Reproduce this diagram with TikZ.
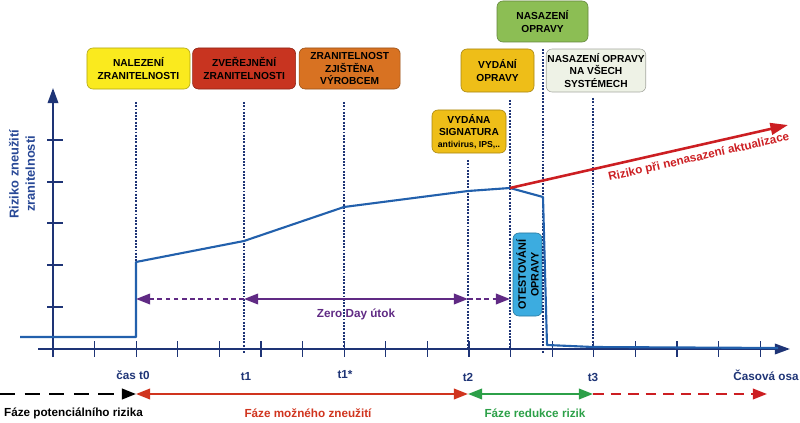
\documentclass[tikz,border=0pt]{standalone}
\usepackage{fontspec}
\setsansfont{Liberation Sans}
\usepackage{tikz}
\usetikzlibrary{arrows.meta,positioning}

\definecolor{osa}{RGB}{30,52,118}
\definecolor{popis}{RGB}{40,72,150}
\definecolor{krivka}{RGB}{34,96,172}
\definecolor{fialova}{RGB}{96,42,132}
\definecolor{cervena}{RGB}{204,30,34}
\definecolor{rudy}{RGB}{208,52,30}
\definecolor{zelena}{RGB}{44,160,72}
\definecolor{zluta}{RGB}{250,234,30}
\definecolor{cihla}{RGB}{200,52,32}
\definecolor{oranz}{RGB}{216,114,34}
\definecolor{travova}{RGB}{140,190,84}
\definecolor{zlata}{RGB}{238,190,24}
\definecolor{svetla}{RGB}{238,242,230}
\definecolor{nebeska}{RGB}{60,172,224}

\begin{document}
\begin{tikzpicture}[
		x=0.03cm, y=-0.03cm,
		font=\bfseries\sffamily\fontsize{10}{12}\selectfont,
		krabice/.style={draw=#1!70!black, fill=#1, rounded corners=5pt, align=center,
			inner sep=1pt, line width=0.5pt, font=\bfseries\sffamily\fontsize{8.7}{10.4}\selectfont},
		tecky/.style={osa, line width=1pt, dash pattern=on 1.6pt off 1.2pt},
		ryska/.style={osa, line width=1.1pt},
		hrot/.style={-{Triangle[length=12pt,width=9pt]}},
		dvahroty/.style={{Triangle[length=12pt,width=9pt]}-{Triangle[length=12pt,width=9pt]}}]
		\useasboundingbox (0,0) rectangle (800,423);
		
		% Draw axes
		\draw[osa, line width=1.8pt, -{Triangle[length=13pt,width=9pt]}] (38,349) coordinate (xstart) -- (790,349) coordinate (xend);
		\draw[osa, line width=1.8pt, -{Triangle[length=13pt,width=9pt]}] (53,357) coordinate (ystart) -- (53,88) coordinate (yend);
		\foreach \i in {0,...,17}
		\draw[ryska] ({53+41.6*\i},341) -- ({53+41.6*\i},357);
		\foreach \yy in {140,182,223,265,307}
		\draw[ryska] (47,\yy) -- (63,\yy);
		\node[rotate=90, align=center, text=popis, font=\bfseries\sffamily\fontsize{11}{14}\selectfont] (riziko) at (22,174) {Riziko zneužití\\zranitelnosti};
		
		% time points
		\draw
		(136,349) coordinate (t0)
		(244,349) coordinate (t1)
		(344,349) coordinate (t1s)
		(468,349) coordinate (t2)
		(510,349) coordinate (tv)
		(543,349) coordinate (tn)
		(593,349) coordinate (t3);
		
		% boxes
		\node[krabice=zluta, minimum width=3.09cm, minimum height=1.23cm] (nalezeni) at (138.5,68.5) {NALEZENÍ\\ZRANITELNOSTI};
		\node[krabice=cihla, minimum width=3.09cm, minimum height=1.23cm, right=0.06cm of nalezeni] (zverejneni) {ZVEŘEJNĚNÍ\\ZRANITELNOSTI};
		\node[krabice=oranz, minimum width=3.03cm, minimum height=1.23cm, right=0.09cm of zverejneni] (zjistena) {ZRANITELNOST\\ZJIŠTĚNA\\VÝROBCEM};
		\node[krabice=travova, minimum width=2.73cm, minimum height=1.23cm] (nasazeni) at (542.5,21.5) {NASAZENÍ\\OPRAVY};
		\node[krabice=zlata, minimum width=2.19cm, minimum height=1.29cm] (vydani) at (497.5,70.5) {VYDÁNÍ\\OPRAVY};
		\node[krabice=svetla, minimum width=2.64cm, minimum height=1.29cm] (vsech) at (596,70.5) {NASAZENÍ OPRAVY\\NA VŠECH\\SYSTÉMECH};
		\node[krabice=zlata, minimum width=2.22cm, minimum height=1.29cm] (signatura) at (469,131.5)
		{VYDÁNA\\SIGNATURA\\{\fontsize{7.4}{9}\selectfont antivirus, IPS,..}};
		\node[krabice=nebeska, rotate=90, minimum width=2.49cm, minimum height=0.87cm,
		font=\bfseries\sffamily\fontsize{9.2}{11}\selectfont] (test) at (527.5,274.5) {OTESTOVÁNÍ\\OPRAVY};
		
		% dotted verticals
		\draw[tecky] (t0 |- 0,102) -- (t0 |- 0,262);
		\draw[tecky] (t1 |- 0,102) -- (t1 |- 0,353);
		\draw[tecky] (t1s |- 0,102) -- (t1s);
		\draw[tecky] (t2 |- 0,160) -- (t2);
		\draw[tecky] (tv |- 0,100) -- (tv);
		\draw[tecky] (tn |- 0,49) -- (tn |- 0,353);
		\draw[tecky] (t3 |- 0,98) -- (t3);
		
		% risk curve
		\draw[krivka, line width=1.8pt, line join=round]
		(20,337) coordinate (k0) -- (136,337) -- (136,262) coordinate (k1)
		-- (244,241) -- (344,207) -- (468,191) -- (510,188) coordinate (kv)
		-- (543,197) -- (547,345) -- (593,347) -- (778,348) coordinate (kend);
		\coordinate (rtip) at (788,125);
		\draw[cervena, line width=2.2pt, -{Triangle[length=15pt,width=10pt]}] (kv) -- (rtip)
		node[pos=0.67, sloped, below=1pt, text=cervena] {Riziko při nenasazení aktualizace};
		
		% Zero Day
		\draw
		(136,299) coordinate (z0)
		(244,299) coordinate (z1)
		(468,299) coordinate (z2)
		(510,299) coordinate (z3);
		\draw[fialova, line width=1.5pt, dash pattern=on 4pt off 3pt, hrot] (z1) -- (z0);
		\draw[fialova, line width=1.5pt, dvahroty] (z1) -- (z2) node[midway, below=4pt] (zeroday) {Zero Day útok};
		\draw[fialova, line width=1.5pt, dash pattern=on 4pt off 3pt, hrot] (z2) -- (z3);
		
		% time labels
		\node[text=osa] (lt0) at (133,375) {čas t0};
		\node[text=osa] (lt1) at (246,377) {t1};
		\node[text=osa] (lt1s) at (345,375) {t1*};
		\node[text=osa] (lt2) at (468,377) {t2};
		\node[text=osa] (lt3) at (593,377) {t3};
		\node[text=osa] (losa) at (766,375) {Časová osa};
		
		% phases
		\draw
		(0,394) coordinate (f0)
		(136,394) coordinate (f1)
		(468,394) coordinate (f2)
		(593,394) coordinate (f3)
		(767,394) coordinate (f4);
		\draw[black, line width=1.8pt, dash pattern=on 13pt off 8pt, hrot] (f0) -- (f1);
		\draw[rudy, line width=1.6pt, dvahroty] (f1) -- (f2);
		\draw[zelena, line width=1.6pt, dvahroty] (f2) -- (f3);
		\draw[cervena, line width=1.6pt, dash pattern=on 9pt off 6pt, hrot] (f3) -- (f4);
		\node[anchor=west] (fpot) at (0,413) {Fáze potenciálního rizika};
		\node[text=rudy] (fmoz) at (308,413) {Fáze možného zneužití};
		\node[text=zelena] (fred) at (535,413) {Fáze redukce rizik};
\end{tikzpicture}
\end{document}
